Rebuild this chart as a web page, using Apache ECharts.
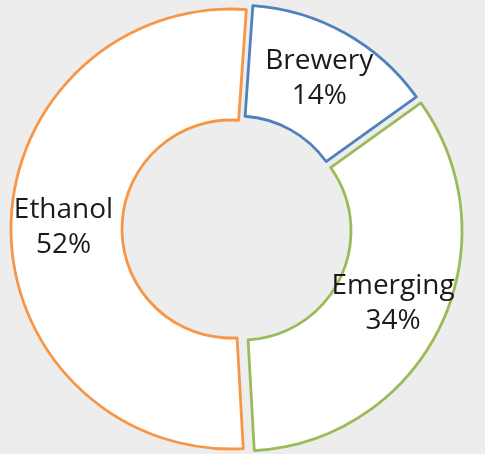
<!DOCTYPE html>
<html>
<head>
<meta charset="utf-8">
<script src="https://cdn.jsdelivr.net/npm/echarts@6/dist/echarts.min.js"></script>
<style>
  html, body { margin: 0; padding: 0; background: #ededed; }
  #chart { width: 485px; height: 454px; }
</style>
</head>
<body>
<div id="chart"></div>
<script>
// Market share by segment (%)
const categories = ['Brewery', 'Emerging', 'Ethanol'];
const shares = [14, 34, 52];
const borderColors = ['#4f81bd', '#9bbb59', '#f79646'];

// Each segment is drawn by its own pie series so it can sit slightly apart
// from the others (exploded donut). Every series carries the full data set,
// so the angles all come from the same shares; only one sector is visible.
const centers = [[237.5, 225], [242, 231], [231, 229]];

const series = categories.map((_, own) => ({
  type: 'pie',
  center: centers[own],
  radius: [109, 220],
  startAngle: 86,
  clockwise: true,
  silent: true,
  animation: false,
  avoidLabelOverlap: false,
  labelLine: { show: false },
  emphasis: { disabled: true },
  data: categories.map((name, i) => ({
    name,
    value: shares[i],
    itemStyle: i === own
      ? { color: '#ffffff', borderColor: borderColors[i], borderWidth: 2.8 }
      : { color: 'rgba(0,0,0,0)', borderWidth: 0 },
    label: {
      show: i === own,
      position: 'inside',
      formatter: p => p.name + '\n' + p.value + '%',
      color: '#1a1a1a',
      fontFamily: 'Open Sans',
      fontSize: 28,
      lineHeight: 35
    }
  }))
}));

const chart = echarts.init(document.getElementById('chart'), null, { renderer: 'canvas' });
chart.setOption({
  backgroundColor: '#ededed',
  animation: false,
  series
});
</script>
</body>
</html>
